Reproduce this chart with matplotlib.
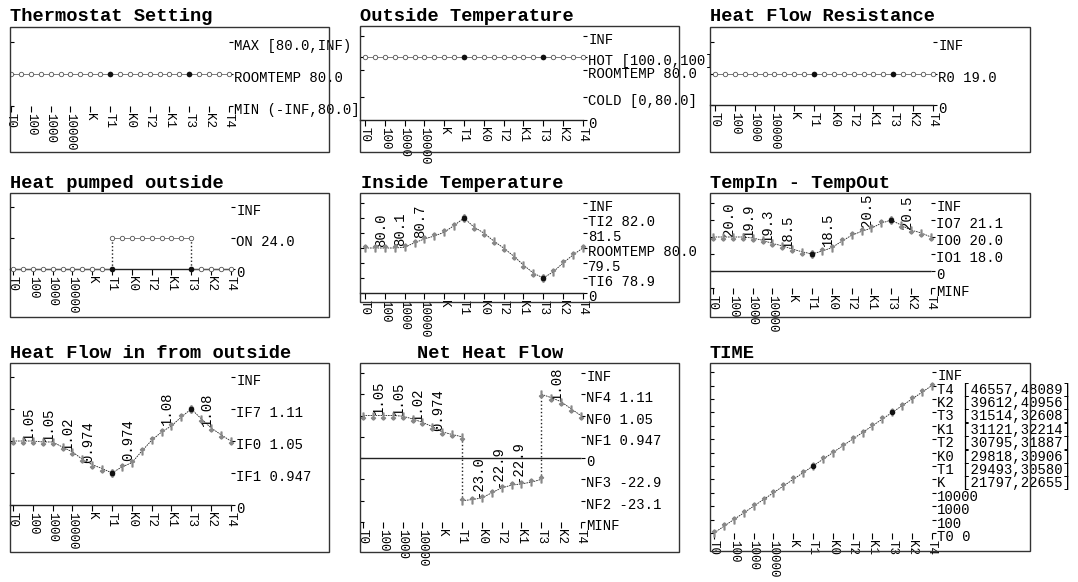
import matplotlib.pyplot as plt
from matplotlib.patches import Rectangle
from matplotlib.transforms import ScaledTranslation

plt.rcParams['font.family'] = ['Liberation Mono', 'DejaVu Sans']

W, H = 1078, 582
DX = 19.8  # pixels per time step on every panel

# ----------------------------- data -----------------------------
x_ticks = ["T0", "100", "1000", "10000", "K", "T1", "K0", "T2", "K1", "T3", "K2", "T4"]
t_all = [0, 0.5, 1, 1.5, 2, 2.5, 3, 3.5, 4, 4.5, 5, 5.5,
         6, 6.5, 7, 7.5, 8, 8.5, 9, 9.5, 10, 10.5, 11]
t_a = t_all[:11]     # T0 .. T1
t_b = t_all[10:19]   # T1 .. T3
t_c = t_all[18:]     # T3 .. T4

# Thermostat Setting
thermo_names = ["MIN (-INF,80.0]", "ROOMTEMP 80.0", "MAX [80.0,INF)"]
thermo_levels = [0, 1, 2]
thermo_vals = [1, 1, 1, 1, 1, 1, 1, 1, 1, 1, 1, 1, 1, 1, 1, 1, 1, 1, 1, 1, 1, 1, 1]

# Outside Temperature
out_names = ["0", "COLD [0,80.0]", "ROOMTEMP 80.0", "HOT [100.0,100]", "INF"]
out_levels = [0, 1.1, 2.4, 3.0, 4.0]
out_vals = [3, 3, 3, 3, 3, 3, 3, 3, 3, 3, 3, 3, 3, 3, 3, 3, 3, 3, 3, 3, 3, 3, 3]

# Heat Flow Resistance
res_names = ["0", "R0 19.0", "INF"]
res_levels = [0, 1, 2]
res_vals = [1, 1, 1, 1, 1, 1, 1, 1, 1, 1, 1, 1, 1, 1, 1, 1, 1, 1, 1, 1, 1, 1, 1]

# Heat pumped outside
pump_names = ["0", "ON 24.0", "INF"]
pump_levels = [0, 1, 2]
pump_a = [0, 0, 0, 0, 0, 0, 0, 0, 0, 0, 0]
pump_b = [1, 1, 1, 1, 1, 1, 1, 1, 1]
pump_c = [0, 0, 0, 0, 0]

# Inside Temperature
tin_names = ["0", "TI6 78.9", "79.5", "ROOMTEMP 80.0", "81.5", "TI2 82.0", "INF"]
tin_levels = [0, 1, 2, 3, 4, 5, 6]
tin_a = [3, 3, 3, 3, 3.05, 3.35, 3.6, 3.8, 4.05, 4.5, 5.0]
tin_b = [5.0, 4.4, 4.0, 3.47, 3.0, 2.47, 1.87, 1.33, 1.0]
tin_c = [1.0, 1.4, 2.0, 2.53, 3.0]
tin_lab_x = [1, 2, 3]
tin_lab = ["80.0", "80.1", "80.7"]

# TempIn - TempOut
dio_names = ["MINF", "0", "IO1 18.0", "IO0 20.0", "IO7 21.1", "INF"]
dio_levels = [0, 1, 2, 3, 4, 5]
dio_a = [3, 3, 3, 3, 2.94, 2.81, 2.62, 2.48, 2.29, 2.13, 2.0]
dio_b = [2.0, 2.17, 2.37, 2.75, 3.1, 3.33, 3.52, 3.81, 4.0]
dio_c = [4.0, 3.7, 3.4, 3.25, 3.0]
dio_lab_x = [1, 2, 3, 4, 6, 8, 10]
dio_lab = ["20.0", "19.9", "19.3", "18.5", "18.5", "20.5", "20.5"]

# Heat Flow in from outside
hin_names = ["0", "IF1 0.947", "IF0 1.05", "IF7 1.11", "INF"]
hin_levels = [0, 1, 2, 3, 4]
hin_a = [2, 2, 2, 1.97, 1.97, 1.81, 1.66, 1.43, 1.26, 1.14, 1.0]
hin_b = [1.0, 1.19, 1.32, 1.68, 2.02, 2.28, 2.47, 2.75, 3.0]
hin_c = [3.0, 2.7, 2.41, 2.2, 2.0]
hin_lab_x = [1, 2, 3, 4, 6, 8, 10]
hin_lab = ["1.05", "1.05", "1.02", "0.974", "0.974", "1.08", "1.08"]

# Net Heat Flow
net_names = ["MINF", "NF2 -23.1", "NF3 -22.9", "0", "NF1 0.947", "NF0 1.05", "NF4 1.11", "INF"]
net_levels = [0, 1, 2, 3, 4, 5, 6, 7]
net_a = [5, 5, 5, 5, 4.97, 4.84, 4.68, 4.48, 4.23, 4.11, 4.0]
net_b = [1.0, 1.05, 1.13, 1.37, 1.6, 1.73, 1.79, 1.87, 2.0]
net_c = [6.0, 5.84, 5.65, 5.32, 5.0]
net_lab_x = [1, 2, 3, 4, 6, 7, 8, 10]
net_lab = ["1.05", "1.05", "1.02", "0.974", "-23.0", "-22.9", "-22.9", "1.08"]

# TIME
time_names = ["T0 0", "100", "1000", "10000", "K  [21797,22655]", "T1 [29493,30580]",
              "K0 [29818,30906]", "T2 [30795,31887]", "K1 [31121,32214]",
              "T3 [31514,32608]", "K2 [39612,40956]", "T4 [46557,48089]", "INF"]
time_levels = [0, 1, 2, 3, 4, 5, 6, 7, 8, 9, 10, 11, 12]
time_vals = [0, 0.5, 1, 1.5, 2, 2.5, 3, 3.5, 4, 4.5, 5, 5.5,
             6, 6.5, 7, 7.5, 8, 8.5, 9, 9.5, 10, 10.5, 11]

# ----------------------------- drawing -----------------------------
UP = '$\\uparrow$'
DOWN = '$\\downarrow$'
fig = plt.figure(figsize=(W / 100, H / 100), dpi=100)
label_shift = ScaledTranslation(0, -0.025, fig.dpi_scale_trans)


def panel(box, t0_off, base_px, dy_px, levels, names, axis_line=True):
    x0, y0, x1, y1 = box
    ax = fig.add_axes([x0 / W, 1 - y1 / H, (x1 - x0) / W, (y1 - y0) / H])
    xmin = -t0_off / DX
    xmax = (x1 - x0 - t0_off) / DX
    ax.set_xlim(xmin, xmax)
    ax.set_ylim(-(y1 - base_px) / dy_px, (base_px - y0) / dy_px)
    for s in ['left', 'top', 'right']:
        ax.spines[s].set_visible(False)
    ax.spines['bottom'].set_position(('data', 0))
    if axis_line:
        ax.spines['bottom'].set_bounds(xmin, 11)
        ax.spines['bottom'].set_linewidth(1.0)
        ax.spines['bottom'].set_color('#222')
    else:
        ax.spines['bottom'].set_visible(False)
    ax.add_patch(Rectangle((0, 0), 1, 1, transform=ax.transAxes, fill=False,
                           lw=1.0, ec='#333', clip_on=False, zorder=6))
    ax.set_xticks(range(len(x_ticks)), x_ticks)
    ax.tick_params(axis='x', direction='out', length=4, width=0.8, pad=1,
                   labelsize=9, labelrotation=-90)
    ax.set_yticks(levels)
    ax.tick_params(axis='y', direction='in', length=3, width=0.8, labelleft=False)
    sec = ax.secondary_yaxis((11 - xmin) / (xmax - xmin))
    sec.set_yticks(levels, names)
    sec.tick_params(axis='y', direction='out', length=3, width=0.8, pad=1, labelsize=10)
    for lab in sec.get_yticklabels():
        lab.set_transform(lab.get_transform() + label_shift)
    for s in sec.spines.values():
        s.set_visible(False)
    return ax


def series(ax, segs, marks, filled=()):
    prev = None
    for (xs, ys), mk in zip(segs, marks):
        if prev is not None and prev[1] != ys[0]:
            ax.plot([prev[0], xs[0]], [prev[1], ys[0]], ls=':', color='#222', lw=1.0, zorder=3)
        if mk == 'o':
            ax.plot(xs, ys, color='#666', lw=0.6, zorder=3)
            ax.plot(xs, ys, ls='none', marker='o', ms=3.2, mfc='white', mec='#555', mew=0.6, zorder=4)
        else:
            ax.plot(xs, ys, color='#222', lw=0.6, ls=(0, (2, 1)), zorder=3)
            ax.plot(xs, ys, ls='none', marker=mk, ms=5, color='#888', zorder=4)
        prev = (xs[-1], ys[-1])
    for fx, fy in filled:
        ax.plot(fx, fy, 'o', ms=3.0, color='#111', zorder=5)


def labels(ax, xs, ys, txts):
    for xv, tv in zip(xs, txts):
        yv = ys[t_all.index(xv)]
        ax.annotate(tv, (xv, yv), xytext=(0, 1), textcoords='offset points', rotation=90,
                    rotation_mode='anchor', ha='left', va='baseline', fontsize=10)


# 1. Thermostat Setting
ax = panel((10, 27, 329, 152), 1, 106, 32, thermo_levels, thermo_names, axis_line=False)
series(ax, [(t_all, thermo_vals)], ['o'], [(t_all[10], thermo_vals[10]), (t_all[18], thermo_vals[18])])

# 2. Outside Temperature
ax = panel((360, 26, 679, 152), 5, 120, 21, out_levels, out_names)
series(ax, [(t_all, out_vals)], ['o'], [(t_all[10], out_vals[10]), (t_all[18], out_vals[18])])

# 3. Heat Flow Resistance
ax = panel((710, 27, 1030, 152), 5, 105, 31.5, res_levels, res_names)
series(ax, [(t_all, res_vals)], ['o'], [(t_all[10], res_vals[10]), (t_all[18], res_vals[18])])

# 4. Heat pumped outside
ax = panel((10, 193, 329, 317), 3, 269, 31, pump_levels, pump_names)
series(ax, [(t_a, pump_a), (t_b, pump_b), (t_c, pump_c)], ['o', 'o', 'o'],
       [(t_a[-1], pump_a[-1]), (t_c[0], pump_c[0])])

# 5. Inside Temperature
tin_all = tin_a + tin_b[1:] + tin_c[1:]
ax = panel((360, 193, 679, 302), 5, 293, 15, tin_levels, tin_names)
series(ax, [(t_a, tin_a), (t_b, tin_b), (t_c, tin_c)], [UP, DOWN, UP],
       [(t_a[-1], tin_a[-1]), (t_c[0], tin_c[0])])
labels(ax, tin_lab_x, tin_all, tin_lab)

# 6. TempIn - TempOut
dio_all = dio_a + dio_b[1:] + dio_c[1:]
ax = panel((710, 193, 1030, 317), 3, 288, 17, dio_levels, dio_names, axis_line=False)
ax.hlines(1, ax.get_xlim()[0], 11, color='#222', lw=1.0)
series(ax, [(t_a, dio_a), (t_b, dio_b), (t_c, dio_c)], [DOWN, UP, DOWN],
       [(t_a[-1], dio_a[-1]), (t_c[0], dio_c[0])])
labels(ax, dio_lab_x, dio_all, dio_lab)

# 7. Heat Flow in from outside
hin_all = hin_a + hin_b[1:] + hin_c[1:]
ax = panel((10, 363, 329, 552), 3, 505, 32, hin_levels, hin_names)
series(ax, [(t_a, hin_a), (t_b, hin_b), (t_c, hin_c)], [DOWN, UP, DOWN],
       [(t_a[-1], hin_a[-1]), (t_c[0], hin_c[0])])
labels(ax, hin_lab_x, hin_all, hin_lab)

# 8. Net Heat Flow
net_all = net_a + net_b[1:] + net_c[1:]
ax = panel((360, 363, 679, 552), 3, 522, 21.3, net_levels, net_names, axis_line=False)
ax.hlines(3, ax.get_xlim()[0], 11, color='#222', lw=1.0)
series(ax, [(t_a, net_a), (t_b, net_b), (t_c, net_c)], [DOWN, UP, DOWN])
labels(ax, net_lab_x, net_all, net_lab)

# 9. TIME
ax = panel((710, 363, 1030, 551), 4, 533, 13.4, time_levels, time_names, axis_line=False)
series(ax, [(t_all, time_vals)], [UP], [(t_all[10], time_vals[10]), (t_all[18], time_vals[18])])

# titles
titles = [("Thermostat Setting", 10, 21), ("Outside Temperature", 360, 21),
          ("Heat Flow Resistance", 710, 21), ("Heat pumped outside", 10, 188),
          ("Inside Temperature", 361, 188), ("TempIn - TempOut", 710, 188),
          ("Heat Flow in from outside", 10, 358), ("Net Heat Flow", 417, 358),
          ("TIME", 710, 358)]
for txt, px, py in titles:
    fig.text(px / W, 1 - py / H, txt, fontsize=13.5, fontweight='bold', va='baseline', ha='left')

fig.savefig('out.png', dpi=100)
